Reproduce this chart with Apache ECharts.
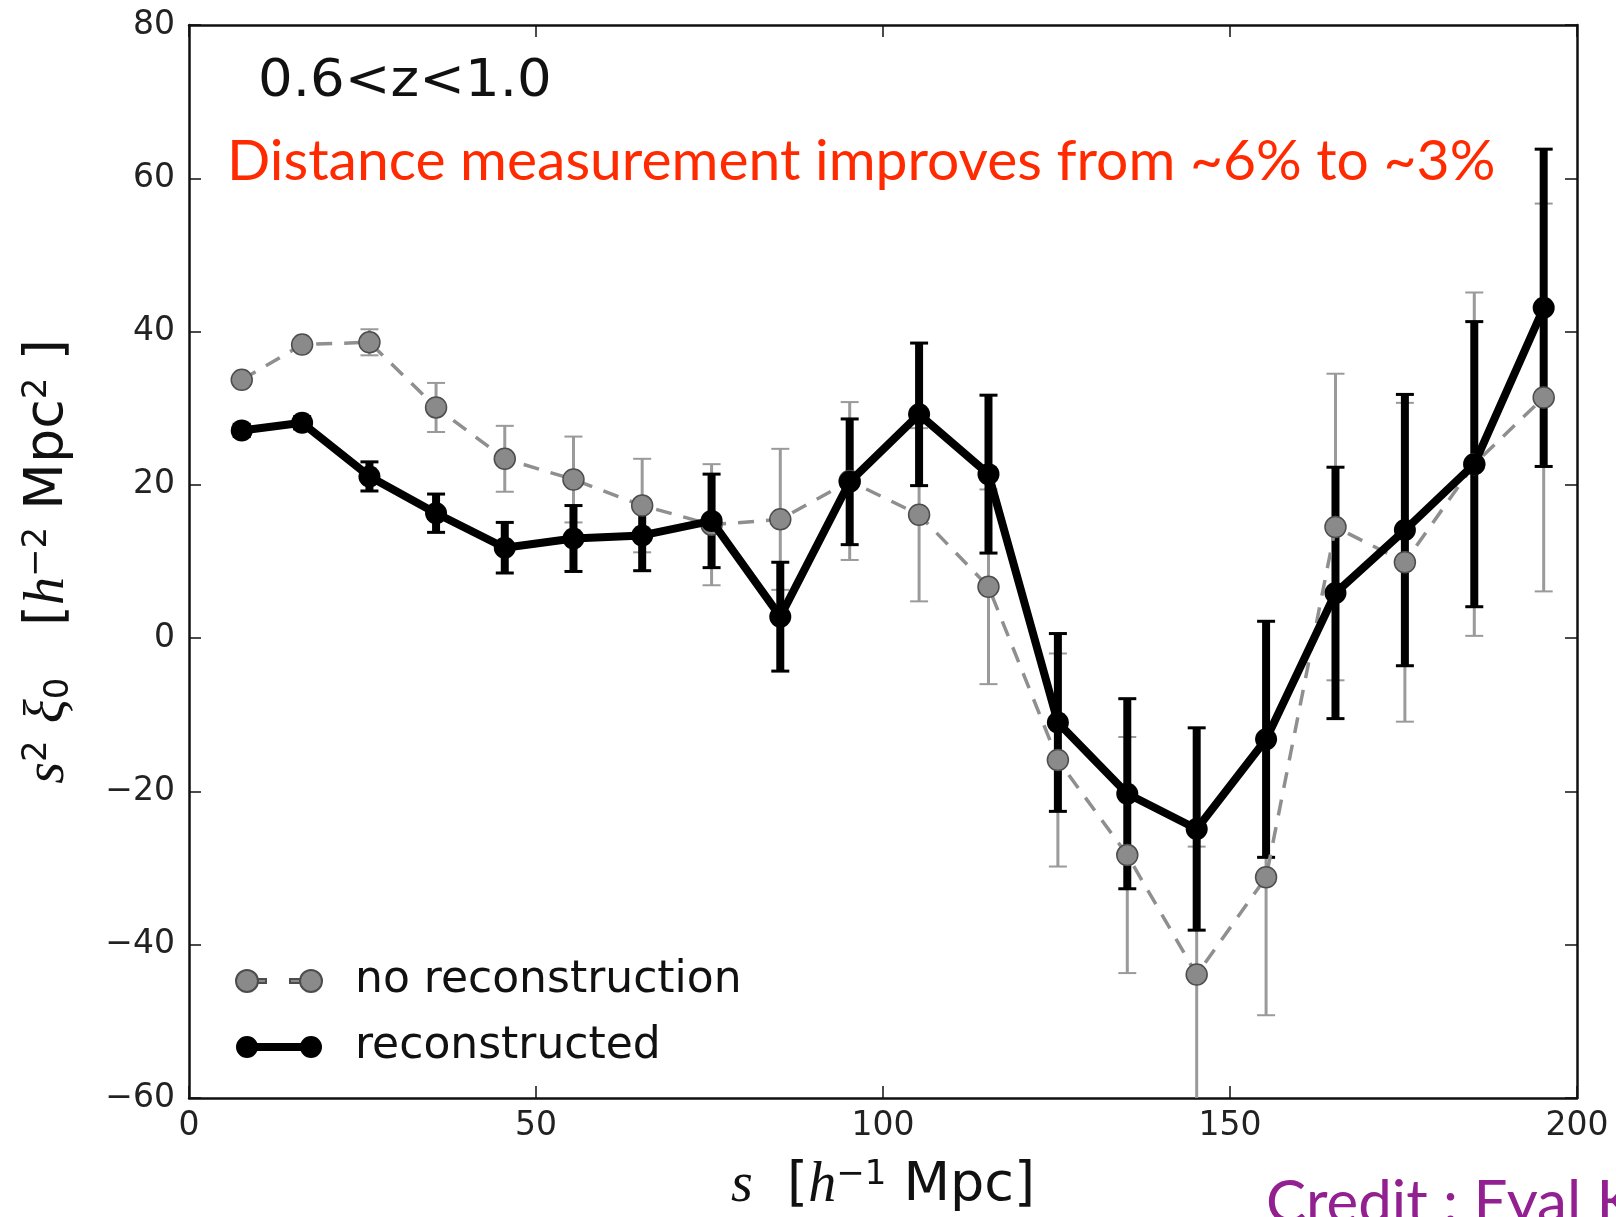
<!DOCTYPE html>
<html>
<head>
<meta charset="utf-8">
<script src="https://cdn.jsdelivr.net/npm/echarts@6/dist/echarts.min.js"></script>
<style>
  html, body { margin: 0; padding: 0; background: #fff; }
  #chart { width: 1616px; height: 1217px; }
</style>
</head>
<body>
<div id="chart"></div>
<script>
// separation s [h^-1 Mpc]
const sVals = [7.6, 16.3, 26.0, 35.6, 45.5, 55.4, 65.3, 75.3, 85.2, 95.2,
               105.2, 115.2, 125.2, 135.2, 145.2, 155.2, 165.2, 175.2, 185.2, 195.2];
// s^2 xi_0, no reconstruction (grey dashed)
const noRecon = [33.7, 38.3, 38.6, 30.1, 23.4, 20.7, 17.3, 14.8, 15.5, 20.5,
                 16.1, 6.7, -15.9, -28.3, -43.9, -31.2, 14.5, 9.9, 22.7, 31.4];
const noReconErr = [0.4, 0.6, 1.7, 3.2, 4.3, 5.6, 6.1, 7.9, 9.2, 10.3,
                    11.3, 12.7, 13.9, 15.4, 16.7, 18.0, 20.0, 20.8, 22.4, 25.3];
// s^2 xi_0, reconstructed (black)
const recon = [27.1, 28.1, 21.1, 16.3, 11.8, 13.0, 13.4, 15.3, 2.8, 20.4,
               29.2, 21.4, -11.0, -20.3, -24.9, -13.2, 5.9, 14.1, 22.7, 43.1];
const reconErr = [0.8, 0.8, 1.9, 2.5, 3.3, 4.3, 4.6, 6.1, 7.1, 8.2,
                  9.3, 10.3, 11.6, 12.4, 13.2, 15.4, 16.4, 17.7, 18.6, 20.7];

const xTicks = { min: 0, max: 200, interval: 50 };
const yTicks = { min: -60, max: 80, interval: 20 };

const chart = echarts.init(document.getElementById('chart'));

const tickFont = { fontFamily: 'DejaVu Sans', fontSize: 33, color: '#222' };
const minus = v => String(v).replace('-', '\u2212');
const frameLine = { show: true, onZero: false, lineStyle: { color: '#111', width: 2.5 } };
const frameTick = { show: true, inside: true, length: 12, lineStyle: { color: '#111', width: 1.5 } };

function errorBars(stroke, width, capW, capHalf) {
  return function (params, api) {
    const x = api.value(0), y = api.value(1), e = api.value(2);
    const top = api.coord([x, y + e]);
    const bot = api.coord([x, y - e]);
    return {
      type: 'group',
      children: [
        { type: 'line', shape: { x1: top[0], y1: top[1], x2: bot[0], y2: bot[1] },
          style: { stroke: stroke, lineWidth: width } },
        { type: 'line', shape: { x1: top[0] - capHalf, y1: top[1], x2: top[0] + capHalf, y2: top[1] },
          style: { stroke: stroke, lineWidth: capW } },
        { type: 'line', shape: { x1: bot[0] - capHalf, y1: bot[1], x2: bot[0] + capHalf, y2: bot[1] },
          style: { stroke: stroke, lineWidth: capW } }
      ]
    };
  };
}

const nameRich = {
  n: { fontFamily: 'DejaVu Sans', fontSize: 54, color: '#111' },
  it: { fontFamily: 'Liberation Serif', fontStyle: 'italic', fontSize: 56, color: '#111' },
  sup: { fontFamily: 'DejaVu Sans', fontSize: 34, color: '#111', verticalAlign: 'top' },
  sub: { fontFamily: 'DejaVu Sans', fontSize: 34, color: '#111', verticalAlign: 'bottom' }
};

const iconSolid = 'path://M0,11a11,11 0 1,0 22,0a11,11 0 1,0 -22,0Z' +
  'M64,11a11,11 0 1,0 22,0a11,11 0 1,0 -22,0Z M11,7v8h64v-8Z';
const iconDash = 'path://M0,11a11,11 0 1,0 22,0a11,11 0 1,0 -22,0Z' +
  'M64,11a11,11 0 1,0 22,0a11,11 0 1,0 -22,0Z M22,9v4h8v-4Z M54,9v4h10v-4Z';

const option = {
  animation: false,
  backgroundColor: '#fff',
  grid: { left: 189, right: 39, top: 25, bottom: 119, outerBoundsMode: 'none', containLabel: false },
  legend: {
    orient: 'vertical',
    left: 230,
    top: 954,
    itemWidth: 86,
    itemHeight: 22,
    itemGap: 22,
    data: [
      { name: 'no reconstruction', icon: iconDash },
      { name: 'reconstructed', icon: iconSolid }
    ],
    textStyle: { fontFamily: 'DejaVu Sans', fontSize: 44, color: '#111', padding: [0, 0, 0, 28], lineHeight: 22 }
  },
  xAxis: [
    {
      type: 'value', position: 'bottom', ...xTicks,
      axisLine: frameLine,
      axisTick: frameTick,
      axisLabel: { ...tickFont, margin: 12 },
      splitLine: { show: false },
      name: '{it|s}{n|  [}{it|h}{sup|\u22121}{n| Mpc]}',
      nameLocation: 'middle',
      nameGap: 60,
      nameTextStyle: { rich: nameRich }
    },
    {
      type: 'value', position: 'top', ...xTicks,
      axisLine: frameLine,
      axisTick: frameTick,
      axisLabel: { show: false },
      splitLine: { show: false }
    }
  ],
  yAxis: [
    {
      type: 'value', position: 'left', ...yTicks,
      axisLine: frameLine,
      axisTick: frameTick,
      axisLabel: { ...tickFont, margin: 14, formatter: minus },
      splitLine: { show: false },
      name: '{it|s}{sup|2}{n| }{it|\u03be}{sub|0}{n|   [}{it|h}{sup|\u22122}{n| Mpc}{sup|2}{n| ]}',
      nameLocation: 'middle',
      nameRotate: 90,
      nameGap: 113,
      nameTextStyle: { rich: nameRich }
    },
    {
      type: 'value', position: 'right', ...yTicks,
      axisLine: frameLine,
      axisTick: frameTick,
      axisLabel: { show: false },
      splitLine: { show: false }
    }
  ],
  series: [
    {
      name: 'no reconstruction err',
      type: 'custom',
      clip: true,
      z: 2,
      renderItem: errorBars('#9a9a9a', 3, 2, 9),
      data: sVals.map((s, i) => [s, noRecon[i], noReconErr[i]])
    },
    {
      name: 'reconstructed err',
      type: 'custom',
      clip: true,
      z: 3,
      renderItem: errorBars('#000', 8, 3, 9),
      data: sVals.map((s, i) => [s, recon[i], reconErr[i]])
    },
    {
      name: 'no reconstruction',
      type: 'line',
      z: 4,
      symbol: 'circle',
      symbolSize: 21,
      showAllSymbol: true,
      lineStyle: { color: '#8f8f8f', width: 3.5, type: [16, 12] },
      itemStyle: { color: '#8a8a8a', borderColor: '#4d4d4d', borderWidth: 1.5 },
      data: sVals.map((s, i) => [s, noRecon[i]])
    },
    {
      name: 'reconstructed',
      type: 'line',
      z: 5,
      symbol: 'circle',
      symbolSize: 22,
      showAllSymbol: true,
      lineStyle: { color: '#000', width: 8 },
      itemStyle: { color: '#000' },
      data: sVals.map((s, i) => [s, recon[i]])
    }
  ],
  graphic: [
    {
      type: 'text', x: 258, y: 56, scaleX: 1.05,
      style: { text: '0.6<z<1.0', font: '52px "DejaVu Sans"', fill: '#111' }
    },
    {
      type: 'text', left: 227, top: 133,
      style: { text: 'Distance measurement improves from ~6% to ~3%', font: '57px Lato', fill: '#ff2a00' }
    },
    {
      type: 'text', left: 1266, top: 1174,
      style: { text: 'Credit : Eyal K', font: '60px Lato', fill: '#922090' }
    }
  ]
};

chart.setOption(option);
</script>
</body>
</html>
